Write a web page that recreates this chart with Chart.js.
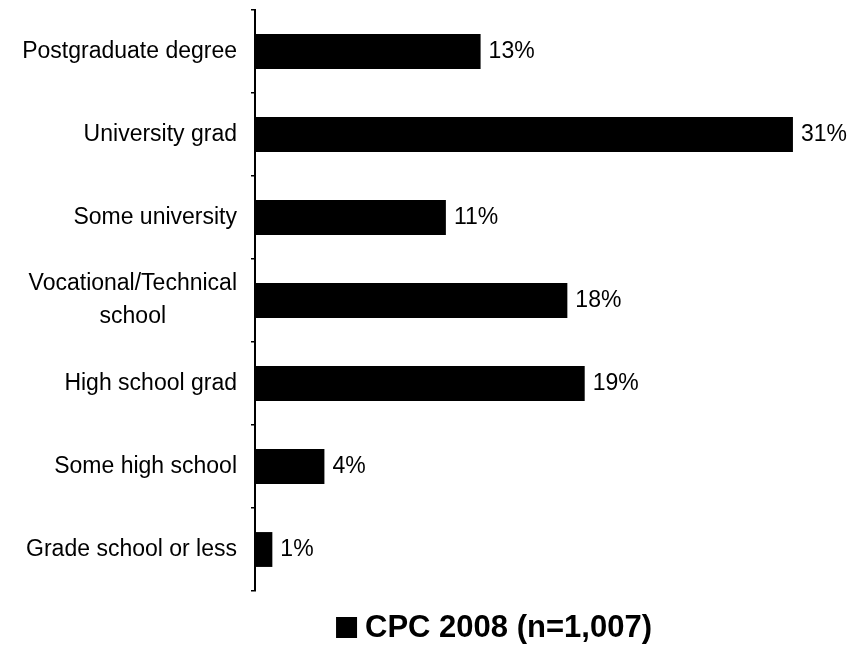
<!DOCTYPE html>
<html>
<head>
<meta charset="utf-8">
<script src="https://cdn.jsdelivr.net/npm/chart.js@4/dist/chart.umd.min.js"></script>
<style>
  html, body { margin: 0; padding: 0; background: #fff; }
</style>
</head>
<body>
<canvas id="edu-chart" width="860" height="647"></canvas>
<script>
// categories (multi-line labels as arrays)
const categories = [
    ["Postgraduate degree"],
    ["University grad"],
    ["Some university"],
    ["Vocational/Technical", "school"],
    ["High school grad"],
    ["Some high school"],
    ["Grade school or less"]
];
const values = [13, 31, 11, 18, 19, 4, 1];
const seriesName = "CPC 2008 (n=1,007)";
const xMax = 34;

const FONT = '"Liberation Sans", Arial, sans-serif';

// category labels: right aligned, extra lines centred in their block
const yLabels = {
    id: 'yLabels',
    afterDraw(chart) {
        const ctx = chart.ctx;
        const y = chart.scales.y;
        const right = chart.chartArea.left - 18;
        const lineH = 33;
        ctx.save();
        ctx.font = '23px ' + FONT;
        ctx.fillStyle = '#000';
        ctx.textBaseline = 'alphabetic';
        ctx.textAlign = 'center';
        categories.forEach((lines, i) => {
            const base = y.getPixelForValue(i) + 6;
            const w = Math.max(...lines.map(l => ctx.measureText(l).width));
            const cx = right - w / 2;
            const first = base - (lines.length - 1) * lineH / 2;
            lines.forEach((l, j) => ctx.fillText(l, cx, first + j * lineH));
        });
        ctx.restore();
    }
};

// value labels right of each bar
const valueLabels = {
    id: 'valueLabels',
    afterDatasetsDraw(chart) {
        const ctx = chart.ctx;
        const meta = chart.getDatasetMeta(0);
        ctx.save();
        ctx.font = '23px ' + FONT;
        ctx.fillStyle = '#000';
        ctx.textBaseline = 'alphabetic';
        ctx.textAlign = 'left';
        meta.data.forEach((bar, i) => {
            ctx.fillText(values[i] + '%', bar.x + 8, bar.y + 6);
        });
        ctx.restore();
    }
};

// legend under the plot
const bottomLegend = {
    id: 'bottomLegend',
    afterDraw(chart) {
        const ctx = chart.ctx;
        ctx.save();
        ctx.font = 'bold 31px ' + FONT;
        const tw = ctx.measureText(seriesName).width;
        const box = 21, gap = 8;
        const total = box + gap + tw;
        const x0 = 494 - total / 2;
        const baseline = 637;
        ctx.fillStyle = '#000';
        ctx.fillRect(x0, baseline - 20, box, box);
        ctx.textBaseline = 'alphabetic';
        ctx.textAlign = 'left';
        ctx.fillText(seriesName, x0 + box + gap, baseline);
        ctx.restore();
    }
};

new Chart(document.getElementById('edu-chart').getContext('2d'), {
    type: 'bar',
    data: {
        labels: categories,
        datasets: [{
            label: seriesName,
            data: values,
            backgroundColor: '#000',
            borderWidth: 0,
            barPercentage: 0.42,
            categoryPercentage: 1
        }]
    },
    options: {
        indexAxis: 'y',
        responsive: false,
        animation: false,
        layout: {
            padding: { top: 10, left: 251, right: 15, bottom: 56 }
        },
        scales: {
            x: {
                display: false,
                min: 0,
                max: xMax
            },
            y: {
                grid: {
                    offset: true,
                    drawOnChartArea: false,
                    drawTicks: true,
                    tickLength: 4,
                    color: '#000',
                    lineWidth: 1.5
                },
                border: { display: true, color: '#000', width: 2 },
                ticks: { display: false }
            }
        },
        plugins: {
            legend: { display: false },
            tooltip: { enabled: false }
        }
    },
    plugins: [yLabels, valueLabels, bottomLegend]
});
</script>
</body>
</html>
